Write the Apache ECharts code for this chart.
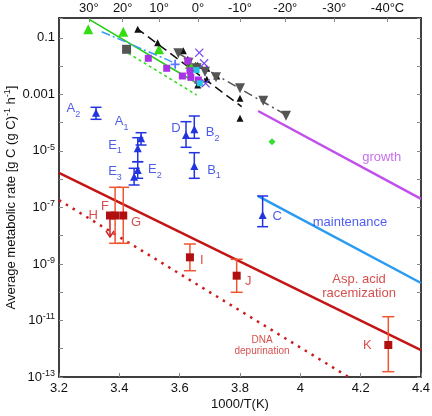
<!DOCTYPE html>
<html><head><meta charset="utf-8">
<script src="https://cdn.jsdelivr.net/npm/echarts@6/dist/echarts.min.js"></script>
<style>html,body{margin:0;padding:0;background:#fff}#c{width:432px;height:416px}</style>
</head><body><div id="c"></div>
<script>
// ---- axes ----
const xTicks = [3.2, 3.4, 3.6, 3.8, 4.0, 4.2, 4.4];
const tempTicksC = [30, 20, 10, 0, -10, -20, -30, -40];
const yLabelExps = [-1, -3, -5, -7, -9, -11, -13]; // log10 of labelled values

// ---- model lines: [1000/T, log10 rate] ----
const growthLine = [[3.86, -3.59], [4.4, -6.70]];
const maintLine = [[3.86, -6.60], [4.4, -9.675]];
const racemLine = [[3.2, -5.78], [4.4, -12.045]];
const dnaLine = [[3.2, -6.74], [4.16, -13]];
const greenSolid = [[3.300, -0.346], [3.667, -2.67]];
const greenDotted = [[3.430, -1.549], [3.6565, -3.024]];
const blueDashDot = [[3.3415, -0.785], [3.575, -1.85]];
const blackDashed = [[3.4576, -0.664], [3.8056, -3.438]];
const grayDashDot = [[3.5955, -1.549], [3.9525, -3.731]];

// ---- lab / culture points ----
const greenTri = [[3.297, -0.70], [3.413, -0.785], [3.5315, -1.407], [3.634, -1.93]];
const blackTri = [[3.461, -0.70], [3.527, -1.174], [3.612, -1.457], [3.627, -1.761], [3.66, -1.973], [3.66, -2.493], [3.66, -2.67], [3.69, -2.079], [3.69, -2.4685], [3.723, -2.352], [3.80, -3.14], [3.80, -3.848]];
const grayInvTri = [[3.5955, -1.549], [3.629, -1.881], [3.656, -2.079], [3.684, -2.2], [3.7204, -2.398], [3.80, -2.787], [3.877, -3.2256], [3.9525, -3.756]];
const purpleSq = [[3.496, -1.726], [3.557, -2.079], [3.609, -2.352], [3.627, -1.821], [3.634, -2.164], [3.637, -2.398], [3.662, -2.493]];
const graySq = [[3.424, -1.407]];
const cyanSq = [[3.656, -2.14], [3.667, -2.61]];
const bluePlus = [[3.585, -1.938]];
const violetX = [[3.665, -1.5275], [3.681, -1.9025], [3.686, -2.61]];
const greenDiamond = [[3.906, -4.676]];

// ---- field estimates with error bars: name, x, y, lo, hi ----
const blueNames = ['A2', 'A1', 'E1', 'E2', 'E3', 'D', 'B2', 'B1', 'C'];
const blueX = [3.3227, 3.472, 3.461, 3.461, 3.449, 3.621, 3.6485, 3.6485, 3.875];
const blueY = [-3.65, -4.556, -4.91, -5.677, -5.914, -4.439, -4.237, -5.536, -7.269];
const blueLo = [-3.884, -4.793, -5.384, -5.971, -6.208, -4.874, -4.556, -5.971, -7.683];
const blueHi = [-3.459, -4.358, -4.535, -5.384, -5.617, -3.968, -3.767, -5.065, -6.597];

const redNames = ['F', 'G', 'I', 'J', 'K'];
const redX = [3.386, 3.413, 3.634, 3.789, 4.2916];
const redY = [-7.287, -7.287, -8.766, -9.416, -11.868];
const redLo = [-8.27, -8.27, -9.24, -10.004, -12.812];
const redHi = [-6.289, -6.289, -8.295, -8.836, -10.867];
const hPoint = [3.369, -7.287]; // H: upper limit
const hLimitEnd = -8.047;

// ---- annotation text anchors (data space) ----
const annoText = ['A{s|2}', 'A{s|1}', 'E{s|1}', 'E{s|3}', 'E{s|2}', 'D', 'B{s|2}', 'B{s|1}', 'C'];
const annoPos = [[3.2474, -3.494], [3.4078, -3.968], [3.3856, -4.793], [3.3856, -5.737], [3.518, -5.652], [3.5878, -4.202], [3.7095, -4.358], [3.7138, -5.677], [3.9236, -7.329]];
const redAnnoText = ['F', 'H', 'G', 'I', 'J', 'K', 'Asp. acid\nracemization', 'DNA\ndepurination'];
const redAnnoPos = [[3.3525, -6.975], [3.3137, -7.269], [3.4552, -7.541], [3.673, -8.886], [3.8275, -9.629], [4.222, -11.868], [4.1945, -9.798], [3.873, -11.886]];

const FONT = '"Liberation Sans", Arial, Helvetica, sans-serif';
const BLUE = '#2233e0';
const RED = '#cc2222';

function zip3(a, b, c) { return a.map((v, i) => [v, b[i], c[i]]); }

function errRender(capW, color) {
  return function (params, api) {
    const x = api.value(0), lo = api.value(1), hi = api.value(2);
    const p1 = api.coord([x, lo]), p2 = api.coord([x, hi]);
    const s = { stroke: color, lineWidth: 1.5 };
    return {
      type: 'group', children: [
        { type: 'line', shape: { x1: p1[0], y1: p1[1], x2: p2[0], y2: p2[1] }, style: s },
        { type: 'line', shape: { x1: p1[0] - capW / 2, y1: p1[1], x2: p1[0] + capW / 2, y2: p1[1] }, style: s },
        { type: 'line', shape: { x1: p2[0] - capW / 2, y1: p2[1], x2: p2[0] + capW / 2, y2: p2[1] }, style: s }
      ]
    };
  };
}

function lineSeries(data, color, width, type) {
  return { type: 'line', data: data, showSymbol: false, symbol: 'none', silent: true, z: 2,
    lineStyle: { color: color, width: width, type: type || 'solid' } };
}
function scatter(data, symbol, size, color, rotate) {
  return { type: 'scatter', data: data, symbol: symbol, symbolSize: size, symbolRotate: rotate || 0, z: 4,
    itemStyle: { color: color, opacity: 1 } };
}
function textSeries(pos, texts, color, size) {
  return { type: 'scatter', symbolSize: 0, z: 6, silent: true,
    data: pos.map((p, i) => ({ value: p, name: texts[i] })),
    label: { show: true, position: 'inside', color: color, fontSize: size, fontFamily: FONT, align: 'center', lineHeight: size + 1,
      formatter: p => p.name,
      rich: { s: { fontSize: 9, color: color, fontFamily: FONT, padding: [12, 0, 0, 0] } } } };
}

const tempVals = tempTicksC.map(t => 1000 / (273.15 + t));
const axisLineStyle = { lineStyle: { color: '#000', width: 1.5 } };
const tickStyle = { inside: true, length: 4, lineStyle: { color: '#888', width: 1 } };
const labelFont = { fontFamily: FONT, fontSize: 13, color: '#111' };

const chart = echarts.init(document.getElementById('c'), null, { renderer: 'canvas' });
chart.setOption({
  animation: false,
  backgroundColor: '#fff',
  grid: { left: 59, right: 11, top: 18, bottom: 39, containLabel: false, outerBoundsMode: 'none' },
  xAxis: [
    { type: 'value', min: 3.2, max: 4.4, interval: 0.2, position: 'bottom',
      axisLine: axisLineStyle, axisTick: tickStyle, splitLine: { show: false },
      axisLabel: Object.assign({ margin: 5, formatter: v => String(Math.round(v * 10) / 10) }, labelFont),
      name: '1000/T(K)', nameLocation: 'middle', nameGap: 21, nameMoveOverlap: false,
      nameTextStyle: { fontFamily: FONT, fontSize: 13, color: '#111' } },
    { type: 'value', min: 3.2, max: 4.4, position: 'top',
      axisLine: axisLineStyle, splitLine: { show: false },
      axisTick: Object.assign({ customValues: tempVals }, tickStyle),
      axisLabel: Object.assign({ margin: 3, customValues: tempVals,
        formatter: v => { const t = Math.round(1000 / v - 273.15); return t + '°' + (t === tempTicksC[tempTicksC.length - 1] ? 'C' : ''); } }, labelFont) }
  ],
  yAxis: [
    { type: 'value', min: -13, max: -0.3, interval: 1, position: 'left',
      axisLine: axisLineStyle, axisTick: tickStyle, splitLine: { show: false },
      axisLabel: Object.assign({ margin: 4,
        formatter: v => {
          const e = Math.round(v);
          if (Math.abs(v - e) > 1e-6 || yLabelExps.indexOf(e) < 0) return '';
          if (e === -1) return '0.1';
          if (e === -3) return '0.001';
          return '10{sup|' + e + '}';
        },
        rich: { sup: { fontSize: 9, fontFamily: FONT, color: '#111', padding: [0, 0, 7, 0] } } }, labelFont),
      name: 'Average metabolic rate [g C (g C){sup|-1} h{sup|-1}]', nameLocation: 'middle', nameGap: 40, nameMoveOverlap: false,
      nameTextStyle: { fontFamily: FONT, fontSize: 13, color: '#111',
        rich: { sup: { fontSize: 9, fontFamily: FONT, color: '#111', padding: [0, 0, 7, 0] } } } },
    { type: 'value', min: -13, max: -0.3, interval: 1, position: 'right',
      axisLine: axisLineStyle, axisTick: tickStyle, splitLine: { show: false }, axisLabel: { show: false } }
  ],
  series: [
    lineSeries(growthLine, '#c050ec', 2.5),
    lineSeries(maintLine, '#2a9bf0', 2.5),
    lineSeries(racemLine, '#c41515', 2.5),
    lineSeries(dnaLine, '#cc1a1a', 2.5, [2.5, 5.5]),
    lineSeries(greenSolid, '#22cc11', 1.5),
    lineSeries(greenDotted, '#33dd22', 1.5, [3, 3]),
    lineSeries(blueDashDot, '#3a9cf5', 1.5, [9, 3, 2, 3]),
    lineSeries(blackDashed, '#111', 1.5, [9, 5]),
    lineSeries(grayDashDot, '#555', 1.5, [9, 4, 2, 4]),
    scatter(greenTri, 'triangle', 10, '#33dd11'),
    scatter(blackTri, 'triangle', 7, '#111'),
    scatter(grayInvTri, 'triangle', 10, '#555', 180),
    scatter(purpleSq, 'rect', 7, '#a833e6'),
    scatter(graySq, 'rect', 9, '#555'),
    scatter(cyanSq, 'rect', 6, '#22c8e0'),
    scatter(bluePlus, 'path://M4,0H6V4H10V6H6V10H4V6H0V4H4Z', 9, '#5a78ff'),
    scatter(violetX, 'path://M1,0L5,4L9,0L10,1L6,5L10,9L9,10L5,6L1,10L0,9L4,5L0,1Z', 9, '#7a4cf0'),
    scatter(greenDiamond, 'diamond', 7, '#33dd33'),
    { type: 'custom', z: 3, data: zip3(blueX, blueLo, blueHi), encode: { x: 0, y: [1, 2] },
      renderItem: errRender(11, BLUE) },
    scatter(blueX.map((x, i) => [x, blueY[i]]), 'triangle', 8, BLUE),
    { type: 'custom', z: 3, data: zip3(redX, redLo, redHi), encode: { x: 0, y: [1, 2] },
      renderItem: errRender(12, '#ee5530') },
    { type: 'custom', z: 3, data: [[hPoint[0], hPoint[1], hLimitEnd]], encode: { x: 0, y: [1, 2] },
      renderItem: function (params, api) {
        const p1 = api.coord([api.value(0), api.value(1)]), p2 = api.coord([api.value(0), api.value(2)]);
        const s = { stroke: RED, lineWidth: 1.5, fill: null };
        return { type: 'group', children: [
          { type: 'line', shape: { x1: p1[0], y1: p1[1], x2: p2[0], y2: p2[1] }, style: s },
          { type: 'polyline', shape: { points: [[p2[0] - 4, p2[1] - 6], [p2[0], p2[1]], [p2[0] + 4, p2[1] - 6]] }, style: s }
        ] };
      } },
    scatter(redX.map((x, i) => [x, redY[i]]).concat([hPoint]), 'rect', 8, '#b01010'),
    textSeries(annoPos, annoText, BLUE, 13),
    textSeries(redAnnoPos.slice(0, 6), redAnnoText.slice(0, 6), RED, 13),
    textSeries([redAnnoPos[6]], [redAnnoText[6]], RED, 13),
    textSeries([redAnnoPos[7]], [redAnnoText[7]], RED, 10),
    textSeries([[4.2697, -5.217]], ['growth'], '#b84ae8', 13),
    textSeries([[4.1646, -7.517]], ['maintenance'], '#2233ee', 13)
  ]
});
</script>
</body></html>
